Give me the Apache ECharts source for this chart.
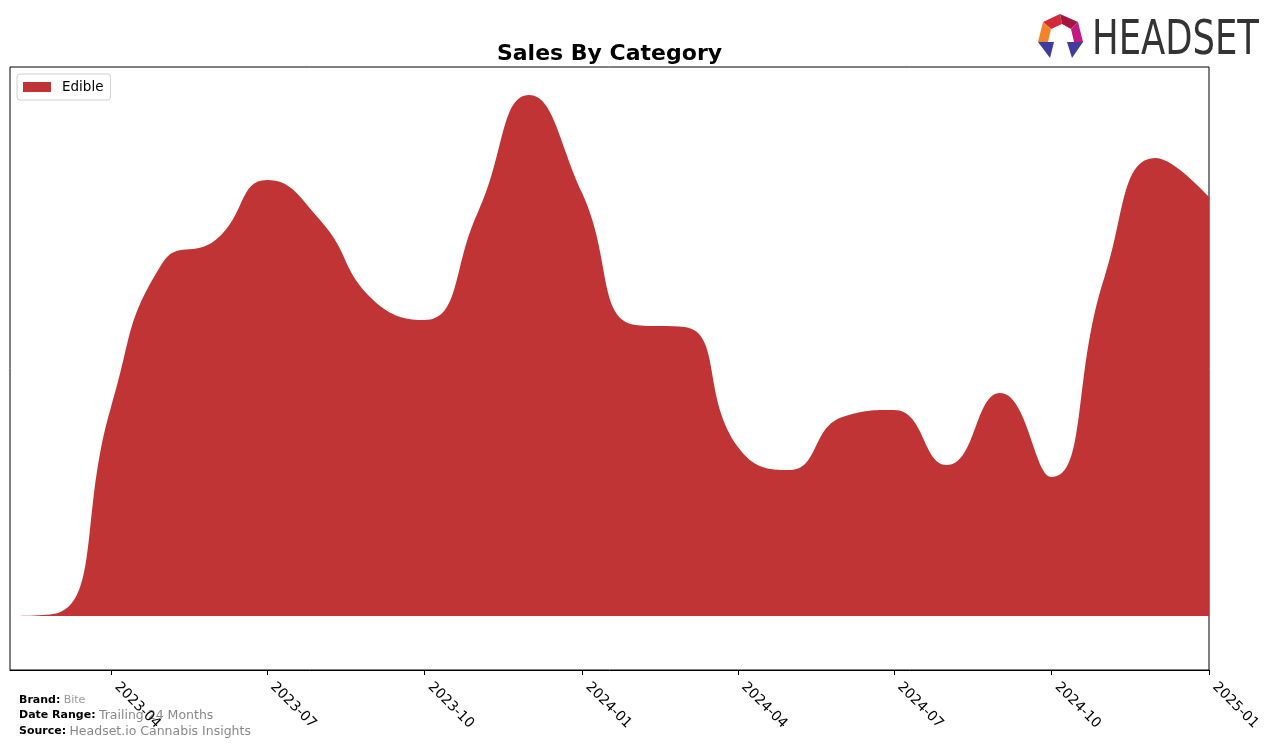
<!DOCTYPE html>
<html>
<head>
<meta charset="utf-8">
<script src="https://cdn.jsdelivr.net/npm/echarts@6/dist/echarts.min.js"></script>
<style>
html,body{margin:0;padding:0;background:#fff;}
#chart{width:1276px;height:748px;}
</style>
</head>
<body>
<div id="chart"></div>
<script>
// ---- data ----
const months = ['2023-02','2023-03','2023-04','2023-05','2023-06','2023-07','2023-08','2023-09','2023-10','2023-11','2023-12','2024-01','2024-02','2024-03','2024-04','2024-05','2024-06','2024-07','2024-08','2024-09','2024-10','2024-11','2024-12','2025-01'];
const edibleSales = [0,3,209,353,376,436,396,316,296,403,521,423,291,289,169,146,199,206,151,223,139,339,458,419];
const tickLabels = ['2023-04','2023-07','2023-10','2024-01','2024-04','2024-07','2024-10','2025-01'];
const seriesName = 'Edible';
const brand = 'Bite';
const dateRange = 'Trailing 24 Months';
const source = 'Headset.io Cannabis Insights';

function ts(m){const p=m.split('-');return Date.UTC(+p[0],+p[1]-1,1);}

const chart = echarts.init(document.getElementById('chart'));
const font = 'DejaVu Sans';
const tickVals = tickLabels.map(ts);

const option = {
  animation:false,
  backgroundColor:'#fff',
  title:{text:'Sales By Category',left:604.5,textAlign:'center',top:38,
    textStyle:{fontFamily:font,fontSize:22,fontWeight:'bold',color:'#000'}},
  legend:{data:[seriesName],left:17,top:74,orient:'vertical',icon:'rect',itemWidth:28,itemHeight:10,
    itemGap:6,padding:[6,7,6,6],borderColor:'#d0d0d0',borderWidth:1,borderRadius:3,
    textStyle:{fontFamily:font,fontSize:13.5,color:'#000',padding:[0,0,0,6]}},
  grid:{left:10,right:67,top:67,bottom:78,show:true,borderColor:'#000',borderWidth:1,backgroundColor:'transparent'},
  xAxis:{type:'value',min:ts(months[0]),max:ts(months[months.length-1]),
    axisLine:{show:true,onZero:false,lineStyle:{color:'#000',width:1}},
    splitLine:{show:false},
    axisTick:{show:true,customValues:tickVals,length:5,lineStyle:{color:'#000'}},
    axisLabel:{customValues:tickVals,rotate:-45,fontFamily:font,fontSize:14,color:'#000',margin:9,padding:[0,0,0,8],
      formatter:function(v){const i=tickVals.indexOf(v);return i>=0?tickLabels[i]:'';}}
  },
  yAxis:{type:'value',min:-54,max:549,show:false,splitLine:{show:false}},
  series:[{name:seriesName,type:'line',smooth:0.5,symbol:'none',
    data:months.map((m,i)=>[ts(m),edibleSales[i]]),
    lineStyle:{width:0,color:'#c13435'},itemStyle:{color:'#c13435'},
    areaStyle:{color:'#c13435',opacity:1}}],
  graphic:[
    {type:'text',left:19,top:694,style:{text:'{b|Brand:} {v|'+brand+'}',rich:{b:{fontFamily:font,fontSize:11,fontWeight:'bold',fill:'#000'},v:{fontFamily:font,fontSize:11,fill:'#999'}}}},
    {type:'text',left:19,top:709,style:{text:'{b|Date Range:} {v|'+dateRange+'}',rich:{b:{fontFamily:font,fontSize:11,fontWeight:'bold',fill:'#000'},v:{fontFamily:font,fontSize:12.5,fill:'#888'}}}},
    {type:'text',left:19,top:725,style:{text:'{b|Source:} {v|'+source+'}',rich:{b:{fontFamily:font,fontSize:11,fontWeight:'bold',fill:'#000'},v:{fontFamily:font,fontSize:12.5,fill:'#888'}}}},
    {type:'polygon',shape:{points:[[1043,22],[1060,14],[1062,24],[1051,29]]},style:{fill:'#d42a3a'}},
    {type:'polygon',shape:{points:[[1060,14],[1078,22],[1071,29],[1062,24]]},style:{fill:'#a3173f'}},
    {type:'polygon',shape:{points:[[1043,22],[1051,29],[1048,42],[1038,42]]},style:{fill:'#f2832a'}},
    {type:'polygon',shape:{points:[[1078,22],[1083,42],[1074,42],[1071,29]]},style:{fill:'#c21a7e'}},
    {type:'polygon',shape:{points:[[1038,42],[1054,42],[1050,58]]},style:{fill:'#3f3c9e'}},
    {type:'polygon',shape:{points:[[1067,42],[1083,42],[1072,58]]},style:{fill:'#3f3c9e'}},
    {type:'text',x:1092,y:18,scaleX:0.82,style:{text:'HEADSET',fontFamily:'DejaVu Sans Condensed',fontSize:48,fill:'#333',textVerticalAlign:'top'}}
  ]
};
chart.setOption(option);
</script>
</body>
</html>
